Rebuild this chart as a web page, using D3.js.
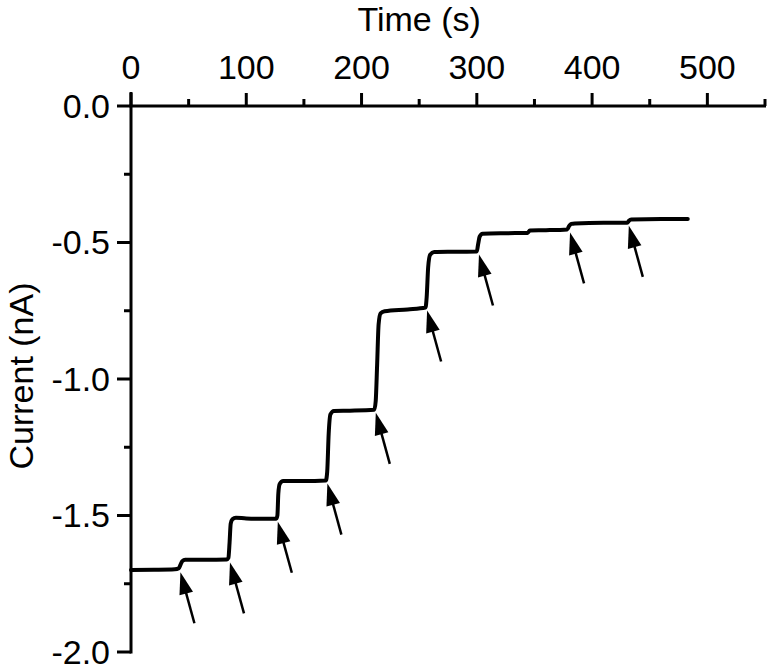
<!DOCTYPE html>
<html>
<head>
<meta charset="utf-8">
<script src="https://cdn.jsdelivr.net/npm/d3@7"></script>
<style>
  html, body { margin: 0; padding: 0; background: #fff; }
  svg { display: block; }
  text { font-family: "Liberation Sans", Arial, sans-serif; fill: #000; }
</style>
</head>
<body>
<svg id="chart" width="767" height="664"></svg>
<script>
// ---- data ----
const timeTicks = [0, 100, 200, 300, 400, 500];
const timeMinorTicks = [50, 150, 250, 350, 450, 550];
const currentTicks = [0.0, -0.5, -1.0, -1.5, -2.0];
const currentMinorTicks = [-0.25, -0.75, -1.25, -1.75];
const currentTickLabels = ["0.0", "-0.5", "-1.0", "-1.5", "-2.0"];

const traceTime = [0, 20, 38, 41.5, 43, 44.5, 47, 65, 83, 84.5, 85.5, 86.5, 88, 91, 100, 115, 126,
  127, 127.8, 129, 132, 150, 169, 170.2, 171.5, 173, 176, 190, 211, 212.3, 213.5, 214.8, 216.5,
  220, 240, 255.5, 256.5, 257.8, 259.5, 263, 280, 300, 301, 302.5, 305, 325, 344, 346, 360,
  378.5, 380, 382, 385, 410, 430.5, 432, 434, 460, 483];
const traceCurrent = [-1.700, -1.699, -1.697, -1.693, -1.680, -1.667, -1.662, -1.662, -1.661, -1.655,
  -1.600, -1.530, -1.514, -1.508, -1.511, -1.512, -1.512,
  -1.500, -1.420, -1.385, -1.374, -1.374, -1.372, -1.340, -1.200, -1.130, -1.117, -1.116, -1.113,
  -1.080, -0.950, -0.800, -0.760,
  -0.752, -0.745, -0.738, -0.700, -0.590, -0.545, -0.535, -0.534, -0.533, -0.510, -0.478, -0.468,
  -0.466, -0.465, -0.456, -0.455,
  -0.452, -0.440, -0.432, -0.430, -0.428, -0.428, -0.420, -0.416, -0.414, -0.414];

const arrowTime = [42, 85, 126.5, 169.5, 211.5, 256, 301, 380, 431];
const arrowCurrent = [-1.697, -1.661, -1.512, -1.372, -1.113, -0.738, -0.533, -0.452, -0.428];

// ---- layout ----
const svg = d3.select("#chart");
const x = d3.scaleLinear().domain([0, 550]).range([131, 765]);
const y = d3.scaleLinear().domain([0, -2.0]).range([106, 652]);

const axisColor = "#000";
const axisW = 3;
const fs = 34;

// top x axis
const gx = svg.append("g");
gx.append("line").attr("x1", x(0) - 1.5).attr("x2", x(550) + 1).attr("y1", y(0)).attr("y2", y(0))
  .attr("stroke", axisColor).attr("stroke-width", axisW);
gx.selectAll(".maj").data(timeTicks).join("line")
  .attr("x1", d => x(d)).attr("x2", d => x(d)).attr("y1", y(0)).attr("y2", y(0) - 13)
  .attr("stroke", axisColor).attr("stroke-width", axisW);
gx.selectAll(".min").data(timeMinorTicks).join("line")
  .attr("x1", d => x(d)).attr("x2", d => x(d)).attr("y1", y(0)).attr("y2", y(0) - 7)
  .attr("stroke", axisColor).attr("stroke-width", axisW);
gx.selectAll("text").data(timeTicks).join("text")
  .attr("x", d => x(d)).attr("y", 79)
  .attr("text-anchor", "middle").attr("font-size", fs)
  .text(d => d);
svg.append("text").attr("x", x(250)).attr("y", 31).attr("text-anchor", "middle")
  .attr("font-size", fs).text("Time (s)");

// left y axis
const gy = svg.append("g");
gy.append("line").attr("x1", x(0)).attr("x2", x(0)).attr("y1", y(0) - 14).attr("y2", y(-2.0) + 1.5)
  .attr("stroke", axisColor).attr("stroke-width", axisW);
gy.selectAll(".maj").data(currentTicks).join("line")
  .attr("x1", x(0)).attr("x2", x(0) - 14).attr("y1", d => y(d)).attr("y2", d => y(d))
  .attr("stroke", axisColor).attr("stroke-width", axisW);
gy.selectAll(".min").data(currentMinorTicks).join("line")
  .attr("x1", x(0)).attr("x2", x(0) - 7).attr("y1", d => y(d)).attr("y2", d => y(d))
  .attr("stroke", axisColor).attr("stroke-width", axisW);
gy.selectAll("text").data(currentTicks).join("text")
  .attr("x", 110).attr("y", d => y(d)).attr("dy", "0.35em")
  .attr("text-anchor", "end").attr("font-size", fs)
  .text((d, i) => currentTickLabels[i]);
svg.append("text").attr("transform", "translate(33," + 376 + ") rotate(-90)")
  .attr("text-anchor", "middle").attr("font-size", fs).text("Current (nA)");

// trace
const pts = traceTime.map((t, i) => [t, traceCurrent[i]]);
svg.append("path").datum(pts)
  .attr("fill", "none").attr("stroke", "#000").attr("stroke-width", 4)
  .attr("stroke-linejoin", "round").attr("stroke-linecap", "round")
  .attr("d", d3.line().x(d => x(d[0])).y(d => y(d[1])).curve(d3.curveMonotoneX));

// arrows
const tipOff = [1, 3], tailOff = [15, 54];
const headLen = 22, headHalf = 7;
const ga = svg.append("g");
arrowTime.forEach((t, i) => {
  const tx = x(t) + tipOff[0], ty = y(arrowCurrent[i]) + tipOff[1];
  const ex = x(t) + tailOff[0], ey = y(arrowCurrent[i]) + tailOff[1];
  const len = Math.hypot(ex - tx, ey - ty);
  const ux = (ex - tx) / len, uy = (ey - ty) / len;
  const bx = tx + ux * headLen, by = ty + uy * headLen;
  ga.append("line").attr("x1", bx - ux * 2).attr("y1", by - uy * 2).attr("x2", ex).attr("y2", ey)
    .attr("stroke", "#000").attr("stroke-width", 2.5);
  ga.append("path")
    .attr("d", d3.line()([[tx, ty], [bx - uy * headHalf, by + ux * headHalf], [bx + uy * headHalf, by - ux * headHalf]]) + "Z")
    .attr("fill", "#000");
});
</script>
</body>
</html>
